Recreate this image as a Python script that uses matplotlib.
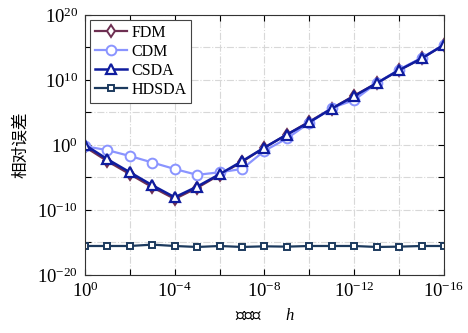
import numpy as np
import matplotlib.pyplot as plt

plt.rcParams['font.family'] = ['Liberation Serif', 'Noto Sans CJK SC']
plt.rcParams['mathtext.fontset'] = 'custom'
plt.rcParams['mathtext.rm'] = 'Liberation Serif'
plt.rcParams['mathtext.it'] = 'Liberation Serif:italic'

# step sizes 10^0 ... 10^-16
h = 10.0 ** -np.arange(0, 17)

# log10 of the relative error for each method
fdm_log = [-0.3, -2.5, -4.5, -6.5, -8.3, -6.6, -4.6, -2.6, -0.4, 1.6, 3.6, 5.6, 7.6, 9.5, 11.5, 13.3, 15.4]
cdm_log = [-0.2, -0.8, -1.7, -2.7, -3.7, -4.6, -4.2, -3.7, -0.9, 1.0, 3.4, 5.7, 6.9, 9.5, 11.6, 13.4, 15.4]
csda_log = [0.0, -2.2, -4.2, -6.2, -8.05, -6.4, -4.5, -2.5, -0.4, 1.6, 3.5, 5.6, 7.5, 9.5, 11.5, 13.3, 15.4]
hdsda_log = [-15.54, -15.54, -15.54, -15.33, -15.54, -15.69, -15.54, -15.69, -15.59, -15.64,
             -15.54, -15.54, -15.54, -15.69, -15.64, -15.54, -15.54]

fig = plt.figure(figsize=(4.68, 3.33), dpi=100)
ax = fig.add_axes([0.1816, 0.1742, 0.767, 0.781])

ax.loglog(h, 10.0 ** np.array(fdm_log), '-d', color='#6E2F52', lw=1.6, ms=6,
          mfc='white', mew=1.4, label='FDM')
ax.loglog(h, 10.0 ** np.array(cdm_log), '-o', color='#8A94FF', lw=1.6, ms=7,
          mfc='white', mew=1.4, label='CDM')
ax.loglog(h, 10.0 ** np.array(csda_log), '-^', color='#0F1C9E', lw=1.8, ms=7.5,
          mfc='white', mew=1.6, label='CSDA')
ax.loglog(h, 10.0 ** np.array(hdsda_log), '-s', color='#1C3A5E', lw=1.6, ms=5,
          mfc='white', mew=1.4, label='HDSDA')

ax.set_xlim(1e0, 1e-16)
ax.set_ylim(1e-20, 1e20)

xt = 10.0 ** -np.arange(0, 17, 2)
ax.set_xticks(xt)
ax.set_xticklabels([r'$10^{%d}$' % (-k) if k % 4 == 0 else '' for k in range(0, 17, 2)])
ax.xaxis.set_minor_locator(plt.NullLocator())
yt = 10.0 ** np.arange(-20, 21, 5)
ax.set_yticks(yt)
ax.set_yticklabels([r'$10^{%d}$' % k if k % 10 == 0 else '' for k in range(-20, 21, 5)])
ax.yaxis.set_minor_locator(plt.NullLocator())

ax.tick_params(direction='in', top=True, right=True, labelsize=13.5, length=4, width=0.8, pad=5)
ax.grid(True, linestyle='-.', color='#D8D8D8', lw=0.8)
for s in ax.spines.values():
    s.set_color('#333333')
    s.set_linewidth(0.8)

ax.set_ylabel('相对误差', fontsize=12, labelpad=6)
ax.set_xlabel('扰动值      $h$', fontsize=12, labelpad=5)

leg = ax.legend(loc='upper left', fontsize=11.5, fancybox=False, edgecolor='#444444',
                framealpha=1, handlelength=2.0, borderaxespad=0.3, labelspacing=0.2,
                handletextpad=0.3, borderpad=0.3)
leg.get_frame().set_linewidth(0.8)

fig.savefig('out.png', dpi=100)
